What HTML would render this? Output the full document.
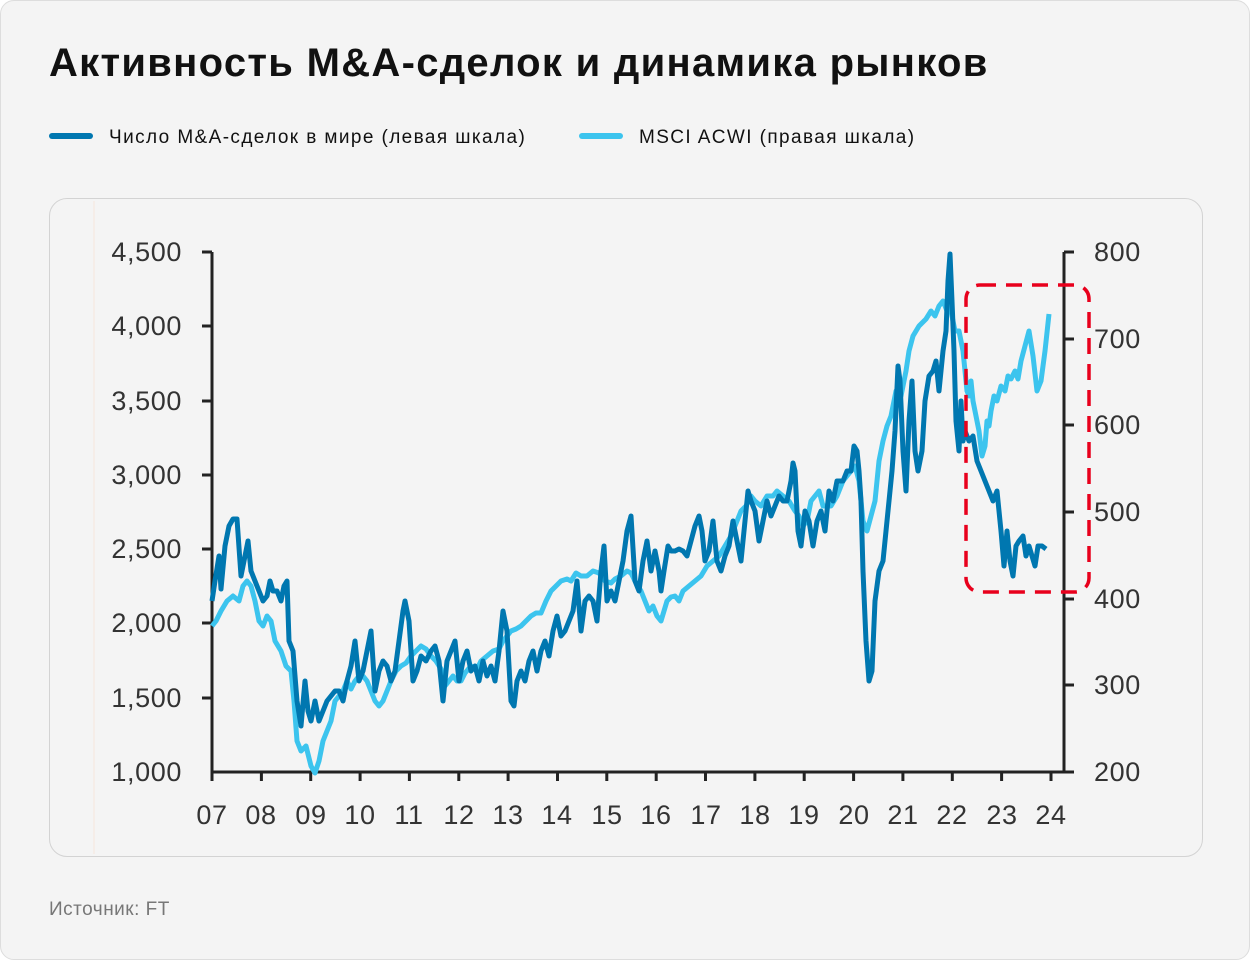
<!DOCTYPE html>
<html><head><meta charset="utf-8"><style>
html,body{margin:0;padding:0;background:#fff}
.page{position:relative;width:1248px;height:958px;background:#f4f4f4;border:1px solid #ddd;border-radius:14px;overflow:hidden;font-family:"Liberation Sans",sans-serif}
h1{position:absolute;left:48px;top:40px;margin:0;font-size:40px;font-weight:bold;color:#111;letter-spacing:1.3px}
.leg{position:absolute;top:126px;font-size:19px;color:#111;letter-spacing:1.4px}
.leg i{display:inline-block;width:44px;height:6px;border-radius:3px;vertical-align:middle;margin-right:16px;position:relative;top:-2px}
.card{position:absolute;left:48px;top:197px;width:1152px;height:657px;border:1px solid #d3d3d3;border-radius:18px;background:#f4f4f4}
.src{position:absolute;left:48px;top:898px;font-size:19px;color:#777;letter-spacing:0.5px}
svg{position:absolute;left:0;top:0}
</style></head><body><div class="page">
<h1>Активность M&amp;A-сделок и динамика рынков</h1>
<div class="leg" style="left:48px"><i style="background:#0077b0"></i>Число M&amp;A-сделок в мире (левая шкала)</div>
<div class="leg" style="left:578px"><i style="background:#3cc4ee"></i>MSCI ACWI (правая шкала)</div>
<div class="card"></div>
<div class="src">Источник: FT</div>
<svg width="1250" height="960" font-family="Liberation Sans, sans-serif" font-size="27" fill="#333" letter-spacing="0.6">
<line x1="93" y1="200" x2="93" y2="853" stroke="#f6e6dc" stroke-width="1"/>
<g stroke="#222" stroke-width="3" fill="none">
<line x1="211" y1="251" x2="211" y2="771"/>
<line x1="1063" y1="251" x2="1063" y2="771"/>
<line x1="211" y1="771" x2="1063" y2="771"/>
<line x1="201" y1="251" x2="211" y2="251"/><line x1="201" y1="325" x2="211" y2="325"/><line x1="201" y1="400" x2="211" y2="400"/><line x1="201" y1="474" x2="211" y2="474"/><line x1="201" y1="548" x2="211" y2="548"/><line x1="201" y1="622" x2="211" y2="622"/><line x1="201" y1="697" x2="211" y2="697"/>
<line x1="1063" y1="251" x2="1073" y2="251"/><line x1="1063" y1="338" x2="1073" y2="338"/><line x1="1063" y1="424" x2="1073" y2="424"/><line x1="1063" y1="511" x2="1073" y2="511"/><line x1="1063" y1="598" x2="1073" y2="598"/><line x1="1063" y1="684" x2="1073" y2="684"/><line x1="1063" y1="771" x2="1073" y2="771"/>
<path d="M211 771v9M260.4 771v9M309.7 771v9M359.1 771v9M408.4 771v9M457.8 771v9M507.1 771v9M556.5 771v9M605.8 771v9M655.2 771v9M704.5 771v9M753.9 771v9M803.2 771v9M852.6 771v9M901.9 771v9M951.3 771v9M1000.6 771v9M1050 771v9"/>
</g>
<g text-anchor="end">
<text x="181" y="260">4,500</text><text x="181" y="334">4,000</text><text x="181" y="409">3,500</text><text x="181" y="483">3,000</text><text x="181" y="557">2,500</text><text x="181" y="631">2,000</text><text x="181" y="706">1,500</text><text x="181" y="780">1,000</text>
</g>
<g>
<text x="1093" y="260">800</text><text x="1093" y="347">700</text><text x="1093" y="433">600</text><text x="1093" y="520">500</text><text x="1093" y="607">400</text><text x="1093" y="693">300</text><text x="1093" y="780">200</text>
</g>
<g text-anchor="middle">
<text x="211" y="823">07</text><text x="260" y="823">08</text><text x="310" y="823">09</text><text x="359" y="823">10</text><text x="408" y="823">11</text><text x="458" y="823">12</text><text x="507" y="823">13</text><text x="556" y="823">14</text><text x="606" y="823">15</text><text x="655" y="823">16</text><text x="705" y="823">17</text><text x="754" y="823">18</text><text x="803" y="823">19</text><text x="853" y="823">20</text><text x="902" y="823">21</text><text x="951" y="823">22</text><text x="1001" y="823">23</text><text x="1050" y="823">24</text>
</g>
<polyline fill="none" stroke="#3cc4ee" stroke-width="5" stroke-linejoin="round" points="211,625 215,620 220,610 226,600 232,595 238,600 242,585 246,580 250,585 254,600 258,620 262,625 266,615 270,620 274,640 280,650 285,665 290,670 293,700 296,740 300,750 305,745 310,765 314,772 318,760 322,740 326,730 330,720 334,700 338,695 342,690 346,680 350,688 354,680 358,675 362,675 366,680 370,690 374,700 378,705 382,700 386,690 390,680 395,670 400,665 405,662 410,655 415,650 420,645 425,648 430,655 435,660 440,668 444,685 448,680 452,675 456,680 460,680 464,672 470,665 476,668 480,660 486,655 492,650 498,648 502,640 506,635 510,630 515,628 520,625 525,620 530,615 535,612 540,612 545,600 550,590 555,585 560,580 566,578 570,580 575,572 580,575 586,575 592,570 598,572 604,580 610,582 614,578 620,575 626,570 630,572 634,580 640,590 644,600 648,610 652,605 656,615 660,620 663,610 666,600 670,596 674,595 678,600 682,590 688,585 694,580 700,575 706,565 712,560 718,555 724,545 730,535 736,520 740,510 745,505 750,495 754,500 760,505 766,495 772,495 776,490 782,495 788,500 794,510 798,515 802,525 806,520 810,500 814,495 818,490 822,505 826,505 830,505 836,495 842,480 846,475 850,470 854,465 858,480 862,520 866,530 870,515 874,500 878,460 882,440 886,425 890,415 895,390 900,395 905,370 908,350 912,335 918,325 925,318 930,310 934,315 938,305 942,300 946,310 948,300 950,310 954,330 958,330 962,350 964,370 966,390 968,395 970,380 972,400 975,415 978,430 981,455 984,445 986,420 988,425 990,410 993,395 996,400 1000,385 1004,390 1007,375 1010,378 1014,370 1017,378 1020,360 1024,345 1028,330 1032,355 1036,390 1040,380 1044,350 1048,313"/>
<polyline fill="none" stroke="#0077b0" stroke-width="5" stroke-linejoin="round" points="211,600 214,580 218,555 220,588 224,545 228,525 232,518 236,518 240,575 244,555 247,540 250,570 254,580 258,590 262,600 266,595 269,580 272,590 276,590 280,600 283,585 286,580 288,640 292,650 296,700 300,725 304,680 307,710 310,720 314,700 318,720 322,710 326,700 330,695 334,690 338,690 342,700 346,680 350,665 354,640 358,680 362,670 366,650 370,630 374,690 378,670 382,660 386,665 390,680 394,670 398,640 402,610 404,600 408,620 412,680 416,670 420,655 425,660 430,650 434,645 438,660 442,700 446,660 450,650 454,640 458,680 462,660 466,650 470,670 474,665 478,680 482,660 486,675 490,665 494,680 498,650 502,610 506,630 510,700 513,705 516,680 520,670 524,680 528,660 532,650 536,670 540,650 544,640 548,655 552,630 556,615 560,635 564,630 568,620 572,610 576,580 580,630 584,600 588,595 592,600 596,620 600,570 603,545 606,600 610,590 614,600 618,580 622,560 626,530 630,515 634,580 638,590 642,560 646,540 650,570 654,550 658,570 660,590 663,570 667,545 670,550 674,550 678,548 682,550 686,555 690,540 694,525 698,515 701,530 704,560 708,550 712,520 716,560 720,570 724,555 728,545 732,520 736,540 740,560 744,520 747,490 750,500 754,510 758,540 762,520 766,500 770,515 774,505 778,495 782,500 786,500 790,480 792,462 794,470 797,530 800,545 804,510 808,520 812,545 816,520 820,510 824,530 828,490 832,500 836,480 838,480 842,480 846,470 850,470 853,445 856,450 858,470 860,500 862,570 865,640 868,680 871,670 874,600 878,570 882,560 885,530 888,500 891,470 894,430 897,365 899,380 902,450 905,490 908,420 911,380 914,450 917,470 921,450 924,400 928,375 932,370 935,360 938,390 942,350 945,330 947,280 949,253 951,300 953,350 955,420 958,450 960,400 962,440 964,430 968,440 972,435 976,460 980,470 984,480 988,490 992,500 996,490 1000,530 1003,565 1006,530 1009,560 1012,575 1015,545 1018,540 1022,535 1025,555 1028,545 1031,555 1034,565 1037,545 1041,545 1045,548"/>
<rect x="965" y="284" width="123" height="307" rx="14" fill="none" stroke="#e8001c" stroke-width="3.5" stroke-dasharray="16 10"/>
</svg>
</div></body></html>
